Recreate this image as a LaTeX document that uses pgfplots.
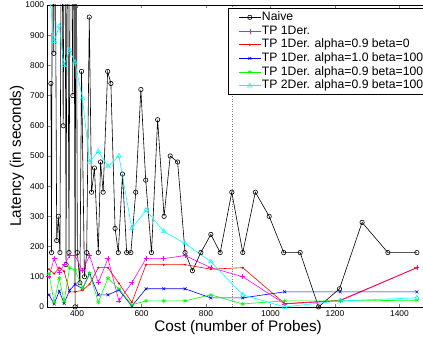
\documentclass[border=0pt]{standalone}
\usepackage{fontspec}
\setmainfont{Liberation Sans}
\usepackage{pgfplots}
\pgfplotsset{compat=1.18}
\definecolor{mmag}{rgb}{1,0,1}
\definecolor{mred}{rgb}{1,0,0}
\definecolor{mblue}{rgb}{0,0,1}
\definecolor{mgreen}{rgb}{0,1,0}
\definecolor{mcyan}{rgb}{0,1,1}
\begin{document}
\begin{tikzpicture}
\begin{axis}[
  scale only axis,
  width=380.9pt, height=302pt,
  xmin=309, xmax=1490, ymin=0, ymax=1000,
  xtick={400,600,...,1400}, ytick={0,100,...,1000},
  tick align=inside,
  major tick length=3pt,
  axis line style={line width=0.6pt},
  /pgf/number format/assume math mode=true,
  /pgf/number format/1000 sep={},
  ticklabel style={font=\fontsize{8.4}{10}\selectfont},
  xlabel={Cost (number of Probes)},
  ylabel={Latency (in seconds)},
  label style={font=\fontsize{15.3}{18}\selectfont},
  xlabel style={at={(axis description cs:0.5,-0.0679)}, anchor=center},
  ylabel style={at={(axis description cs:-0.0806,0.5)}, anchor=center},
  legend image code/.code={\draw[mark repeat=2,mark phase=2] plot coordinates {(0pt,0pt) (11pt,0pt) (22pt,0pt)};},
  legend cell align=left,
  legend style={at={(axis description cs:0.4734,0.990)}, anchor=north west,
    draw=black, line width=1.2pt, fill=white,
    font=\fontsize{12.2}{14}\selectfont, inner xsep=10pt, inner ysep=1.85pt,
    nodes={inner sep=0.85pt, text height=9pt, text depth=3pt}},
]
\addplot[forget plot, gray, dotted, line width=0.5pt] coordinates {(882,0) (882,1000)};
\addplot[color=black, line width=0.6pt, mark=o, mark size=2.2pt, mark options={solid}] coordinates {
(319,740) (321,180) (324,1600) (328,840) (331,1600) (337,220) (342,300) (347,180)
(352,1600) (357,600) (362,1600) (366,140) (370,1600) (375,180) (380,1600) (387,700)
(390,1600) (394,0) (397,1600) (401,180) (409,80) (414,780) (423,100) (430,180)
(438,960) (445,380) (454,460) (466,180) (473,480) (481,380) (495,780) (505,740)
(518,260) (528,180) (541,440) (554,180) (567,180) (582,380) (598,720) (613,420)
(631,180) (650,620) (670,300) (689,500) (712,480) (735,180) (758,120) (784,180)
(815,240) (844,180) (880,380) (914,180) (953,380) (996,300) (1041,180) (1092,180)
(1149,0) (1214,60) (1284,280) (1364,180) (1454,180)};
\addlegendentry{Naive}
\addplot[color=mmag, line width=0.6pt, mark=+, mark size=2.5pt] coordinates {
(313,100) (329,160) (345,115) (360,140) (377,170) (394,170) (417,120) (439,170)
(466,80) (496,160) (530,20) (570,80) (614,160) (669,160) (735,170) (815,130)
(914,100) (1044,10) (1216,20) (1454,130)};
\addlegendentry{TP 1Der.}
\addplot[color=mred, line width=0.6pt, mark=*, mark size=0.7pt] coordinates {
(313,125) (329,110) (345,130) (360,118) (377,50) (394,50) (417,55) (439,75)
(466,130) (496,130) (530,78) (570,15) (614,140) (669,140) (735,140) (815,125)
(914,130) (1044,11) (1216,22) (1454,130)};
\addlegendentry{TP 1Der. alpha=0.9 beta=0}
\addplot[color=mblue, line width=0.6pt, mark=x, mark size=2pt] coordinates {
(313,40) (329,10) (345,52) (360,12) (377,55) (394,75) (417,60) (439,110)
(466,40) (496,40) (530,56) (570,3) (614,60) (669,60) (735,60) (815,30)
(914,30) (1044,50) (1216,50) (1454,50)};
\addlegendentry{TP 1Der. alpha=1.0 beta=100}
\addplot[color=mgreen, line width=0.6pt, mark=asterisk, mark size=2.2pt] coordinates {
(313,110) (329,15) (345,95) (360,18) (377,130) (394,122) (417,62) (439,112)
(466,15) (496,95) (530,60) (570,7) (614,20) (669,20) (735,20) (815,40)
(914,10) (1044,20) (1216,20) (1454,22)};
\addlegendentry{TP 1Der. alpha=0.9 beta=100}
\addplot[color=mcyan, line width=0.6pt, mark=triangle, mark size=2.6pt] coordinates {
(313,1050) (329,880) (345,930) (360,800) (377,850) (394,810) (417,690) (439,480)
(466,515) (496,465) (530,500) (570,260) (614,320) (669,250) (735,210) (815,150)
(914,40) (1044,0) (1216,20) (1454,30)};
\addlegendentry{TP 2Der. alpha=0.9 beta=100}
\coordinate (BL) at (axis cs:309,0);
\coordinate (TR) at (axis cs:1473,1000);
\end{axis}
\pgfresetboundingbox
\path[use as bounding box] ([xshift=-47.7pt,yshift=-36pt]BL) rectangle ([yshift=5pt]TR);
\end{tikzpicture}
\end{document}
